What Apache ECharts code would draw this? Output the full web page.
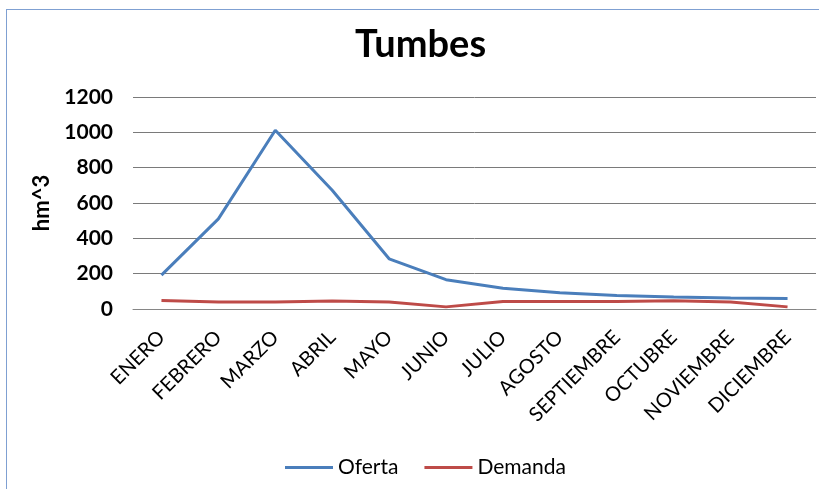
<!DOCTYPE html>
<html><head><meta charset="utf-8">
<script src="https://cdn.jsdelivr.net/npm/echarts@6/dist/echarts.min.js"></script>
<style>
html,body{margin:0;padding:0;background:#fff;}
#frame{position:absolute;left:6px;top:9px;width:830px;height:500px;border:1.5px solid #7fa0d2;box-sizing:border-box;}
#c{position:absolute;left:0;top:0;width:819px;height:489px;}
</style></head>
<body>
<div id="frame"></div>
<div id="c"></div>
<script>
const categories = ['ENERO','FEBRERO','MARZO','ABRIL','MAYO','JUNIO','JULIO','AGOSTO','SEPTIEMBRE','OCTUBRE','NOVIEMBRE','DICIEMBRE'];
const oferta = [192, 510, 1012, 672, 284, 166, 118, 92, 76, 68, 62, 60];
const demanda = [48, 40, 40, 45, 40, 12, 42, 42, 43, 47, 40, 12];
const yTicks = [0, 200, 400, 600, 800, 1000, 1200];

const chart = echarts.init(document.getElementById('c'));
const font = 'Lato, "Open Sans", sans-serif';
chart.setOption({
  animation: false,
  title: {
    text: 'Tumbes', left: 350, top: 21,
    textStyle: {fontFamily: font, fontSize: 38, fontWeight: 'bold', color: '#000'}
  },
  legend: {
    bottom: 6, left: 280, itemWidth: 48, itemHeight: 3, itemGap: 26,
    icon: 'rect',
    textStyle: {fontFamily: font, fontSize: 21, color: '#000'},
    data: ['Oferta', 'Demanda']
  },
  grid: {left: 133, right: 3, top: 97, bottom: 180},
  xAxis: {
    type: 'category', data: categories, boundaryGap: true,
    axisLine: {lineStyle: {color: '#868686'}},
    axisTick: {show: false},
    axisLabel: {rotate: 45, interval: 0, fontFamily: font, fontSize: 20, color: '#000', margin: 25}
  },
  yAxis: {
    type: 'value', min: yTicks[0], max: yTicks[yTicks.length - 1], interval: 200,
    name: 'hm^3', nameLocation: 'middle', nameGap: 74, nameRotate: 90,
    nameTextStyle: {fontFamily: font, fontSize: 22, fontWeight: 'bold', color: '#000'},
    axisLine: {show: false}, axisTick: {show: false},
    axisLabel: {fontFamily: font, fontSize: 21, fontWeight: 'bold', color: '#000', margin: 20,
                formatter: v => String(v)},
    splitLine: {lineStyle: {color: '#7a7a7a', width: 1}}
  },
  series: [
    {name: 'Oferta', type: 'line', data: oferta, symbol: 'none',
     lineStyle: {color: '#4a7ebb', width: 3}, itemStyle: {color: '#4a7ebb'}},
    {name: 'Demanda', type: 'line', data: demanda, symbol: 'none',
     lineStyle: {color: '#be4b48', width: 3}, itemStyle: {color: '#be4b48'}}
  ]
});
</script>
</body></html>
